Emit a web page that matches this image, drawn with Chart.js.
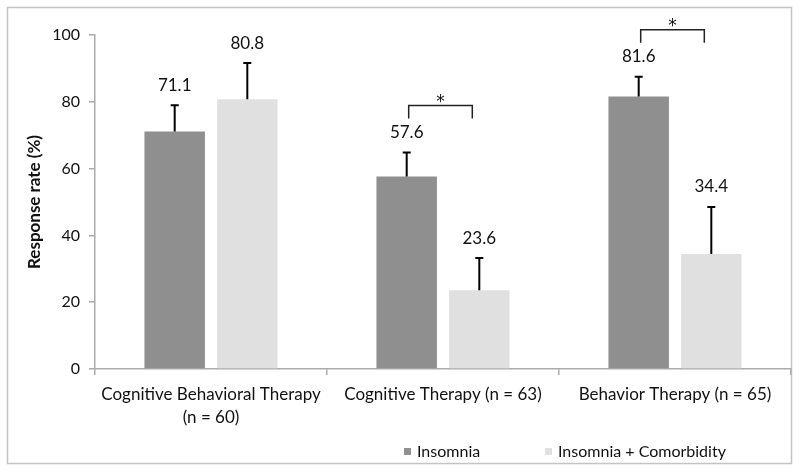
<!DOCTYPE html>
<html>
<head>
<meta charset="utf-8">
<script src="https://cdn.jsdelivr.net/npm/chart.js@4/dist/chart.umd.min.js"></script>
<style>
	html, body { margin: 0; padding: 0; background: #fff; }
	#wrap { width: 800px; height: 473px; }
</style>
</head>
<body>
<div id="wrap"><canvas id="response-chart"></canvas></div>
<script>
const categories = [
	['Cognitive Behavioral Therapy', '(n = 60)'],
	'Cognitive Therapy (n = 63)',
	'Behavior Therapy (n = 65)',
]
const insomnia = [71.1, 57.6, 81.6]
const comorbidity = [80.8, 23.6, 34.4]
const insomniaErr = [7.9, 7.2, 5.9]
const comorbidityErr = [10.8, 9.6, 14.1]
const significant = [false, true, true]
const yTicks = [0, 20, 40, 60, 80, 100]

const errors = [insomniaErr, comorbidityErr]
const font = 'Lato, "Open Sans", sans-serif'
const axisColor = '#ababab'

// frame, error bars, value labels, significance brackets, legend
const extras = {
	id: 'extras',
	beforeDraw(chart) {
		const ctx = chart.ctx
		ctx.save()
		ctx.strokeStyle = '#c4c4c4'
		ctx.lineWidth = 1.5
		ctx.strokeRect(7.5, 7.5, 784, 456)
		ctx.restore()
	},
	afterDatasetsDraw(chart) {
		const ctx = chart.ctx
		const y = chart.scales.y
		const caps = [[], []]
		ctx.save()
		chart.data.datasets.forEach((ds, i) => {
			const meta = chart.getDatasetMeta(i)
			meta.data.forEach((bar, j) => {
				const top = y.getPixelForValue(ds.data[j] + errors[i][j])
				caps[i][j] = top
				ctx.strokeStyle = '#000'
				ctx.lineWidth = 2
				ctx.beginPath()
				ctx.moveTo(bar.x, bar.y)
				ctx.lineTo(bar.x, top)
				ctx.moveTo(bar.x - 4, top)
				ctx.lineTo(bar.x + 4, top)
				ctx.stroke()

				ctx.fillStyle = '#111'
				ctx.font = '17px ' + font
				ctx.textAlign = 'center'
				ctx.textBaseline = 'middle'
				ctx.fillText(ds.data[j].toFixed(1), bar.x, top - 20)
			})
		})

		significant.forEach((sig, j) => {
			if (!sig) return
			const a = chart.getDatasetMeta(0).data[j]
			const b = chart.getDatasetMeta(1).data[j]
			const top = Math.min(caps[0][j], caps[1][j]) - 47
			const x1 = a.x + 2
			const x2 = b.x - 7
			ctx.strokeStyle = '#222'
			ctx.lineWidth = 1.5
			ctx.beginPath()
			ctx.moveTo(x1, top + 13)
			ctx.lineTo(x1, top)
			ctx.lineTo(x2, top)
			ctx.lineTo(x2, top + 13)
			ctx.stroke()
			ctx.fillStyle = '#111'
			ctx.font = '17px "DejaVu Sans", sans-serif'
			ctx.textAlign = 'center'
			ctx.textBaseline = 'middle'
			ctx.fillText('*', (x1 + x2) / 2, top - 3)
		})

		// legend
		const items = [
			{ text: 'Insomnia', color: chart.data.datasets[0].backgroundColor, x: 404 },
			{ text: 'Insomnia + Comorbidity', color: chart.data.datasets[1].backgroundColor, x: 545 },
		]
		items.forEach(it => {
			ctx.fillStyle = it.color
			ctx.fillRect(it.x, 448, 7, 7)
			ctx.fillStyle = '#111'
			ctx.font = '16px ' + font
			ctx.textAlign = 'left'
			ctx.textBaseline = 'middle'
			ctx.fillText(it.text, it.x + 13, 452)
		})
		ctx.restore()
	},
}

const chartData = {
	labels: categories,
	datasets: [
		{
			label: 'Insomnia',
			data: insomnia,
			backgroundColor: '#8f8f8f',
			categoryPercentage: 0.626,
			barPercentage: 0.833,
		},
		{
			label: 'Insomnia + Comorbidity',
			data: comorbidity,
			backgroundColor: '#e0e0e0',
			categoryPercentage: 0.626,
			barPercentage: 0.833,
		},
	],
}

const config = {
	type: 'bar',
	data: chartData,
	options: {
		responsive: false,
		animation: false,
		devicePixelRatio: 1,
		layout: { padding: { left: 8, right: 9, top: 35, bottom: 44 } },
		plugins: {
			legend: { display: false },
			tooltip: { enabled: false },
		},
		scales: {
			x: {
				grid: {
					drawOnChartArea: false,
					tickLength: 6,
					color: axisColor,
					lineWidth: 1.5,
					offset: true,
				},
				border: { color: axisColor, width: 1.5 },
				ticks: {
					color: '#111',
					font: { family: font, size: 17, lineHeight: 1.35 },
					maxRotation: 0,
					padding: 8,
				},
				afterFit(scale) {
					scale.height = 60
				},
			},
			y: {
				min: 0,
				max: 100,
				afterBuildTicks(scale) {
					scale.ticks = yTicks.map(v => ({ value: v }))
				},
				grid: {
					drawOnChartArea: false,
					tickLength: 6,
					color: axisColor,
					lineWidth: 1.5,
				},
				border: { color: axisColor, width: 1.5 },
				ticks: {
					color: '#111',
					font: { family: font, size: 16 },
					padding: 9,
				},
				title: {
					display: true,
					text: 'Response rate (%)',
					color: '#111',
					font: { family: font, size: 17, weight: 'bold' },
					padding: { top: 16, bottom: 0 },
				},
				afterFit(scale) {
					scale.width = 87
				},
			},
		},
	},
	plugins: [extras],
}

const canvaRef = document.querySelector('#response-chart')
canvaRef.width = 800
canvaRef.height = 473

const responseChart = new Chart(canvaRef, config)
</script>
</body>
</html>
